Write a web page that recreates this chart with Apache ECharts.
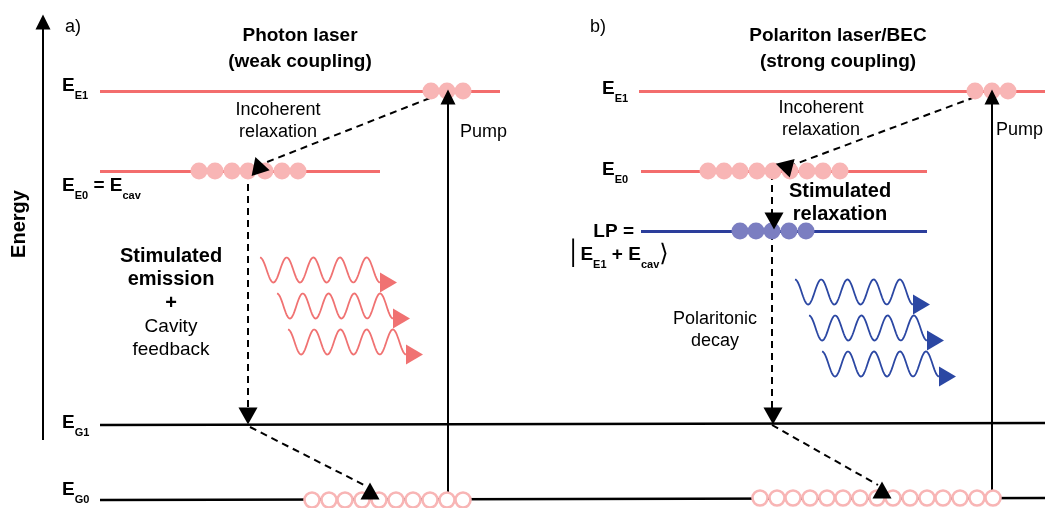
<!DOCTYPE html>
<html>
<head>
<meta charset="utf-8">
<script src="https://cdn.jsdelivr.net/npm/echarts@6/dist/echarts.min.js"></script>
<style>
  html, body { margin: 0; padding: 0; background: #fff; }
  #chart { width: 1049px; height: 508px; }
</style>
</head>
<body>
<div id="chart"></div>
<script>
// ---- Diagram geometry (scene units = plot units, y grows downward) ----
// Energy levels as [x1, y1, x2, y2]
const excitonLevels  = [[100, 91, 500, 91], [100, 171, 380, 171], [639, 91, 1045, 91], [641, 171, 927, 171]];
const polaritonLevel = [[641, 231, 927, 231]];
const groundLevels   = [[100, 425, 1045, 423], [100, 500, 1045, 498]];

// Solid shafts: energy axis and the two pump arrows
const solidShafts = [[43, 440, 43, 28], [448, 500, 448, 104], [992, 498, 992, 104]];

// Dashed transitions
const dashedPaths = [
  [430, 98, 262, 164],   // a) incoherent relaxation
  [248, 172, 248, 410],  // a) stimulated emission
  [250, 427, 366, 486],  // a) G1 -> G0
  [975, 97, 790, 166],   // b) incoherent relaxation
  [772, 173, 772, 214],  // b) stimulated relaxation
  [772, 233, 772, 410],  // b) polaritonic decay
  [772, 425, 878, 485]   // b) G1 -> G0
];

// Arrow heads: [x, y, rotation in degrees]
const solidHeads  = [[43, 22, 0], [448, 97, 0], [992, 97, 0]];
const dashedHeads = [[258, 165, 18], [248, 416, 180], [370, 491, 0],
                     [784, 166, 75], [774, 221, 180], [773, 416, 180], [882, 490, 0]];

// Particle populations: x positions on each level
const popE1a = [431, 447, 463];
const popE0a = [199, 215, 232, 248, 265, 282, 298];
const popE1b = [975, 992, 1008];
const popE0b = [708, 724, 740, 757, 773, 790, 807, 823, 840];
const popLP  = [740, 756, 772, 789, 806];
const popG0a = [312, 329, 345, 362, 379, 396, 413, 430, 447, 463];
const popG0b = [760, 777, 793, 810, 827, 843, 860, 877, 893, 910, 927, 943, 960, 977, 993];
const yE1 = 91, yE0 = 171, yLP = 231, yG0a = 500, yG0b = 498;

// Emitted photons: [start x, centre y, end x]
const photonsA = [[260, 270, 380], [277, 306, 393], [288, 342, 406]];
const photonsB = [[795, 292, 913], [809, 328, 927], [822, 364, 939]];

// ---- Styling ----
const RED = '#f36d6d', PINK = '#f8b5b5', BLUE = '#2c3e9b', PURPLE = '#7b7ec1';
const RED_WAVE = '#f07272', BLUE_WAVE = '#2b47a3', INK = '#000';
const FONT = '"Liberation Sans", Arial, Helvetica, sans-serif';
const WAVE_CYCLES = 4.5, WAVE_AMP = 12.5;

const segs = list => list.map(s => ({ coords: [[s[0], s[1]], [s[2], s[3]]] }));
const row = (xs, y) => xs.map(x => [x, y]);
const heads = list => list.map(h => ({ value: [h[0], h[1]], symbolRotate: h[2] }));

function linesSeries(list, color, width, dashed) {
  return {
    type: 'lines', coordinateSystem: 'cartesian2d', silent: true,
    data: segs(list), symbol: 'none',
    lineStyle: { color: color, width: width, opacity: 1, type: dashed ? [7, 5] : 'solid', cap: 'butt' }
  };
}

function waveSeries(data, color) {
  return {
    type: 'custom', coordinateSystem: 'cartesian2d', silent: true, data: data,
    renderItem: function (params, api) {
      const x0 = api.value(0), yc = api.value(1), x1 = api.value(2);
      const pts = [];
      const n = 160;
      for (let i = 0; i <= n; i++) {
        const t = i / n;
        const x = x0 + (x1 - x0) * t;
        const y = yc - WAVE_AMP * Math.cos(2 * Math.PI * WAVE_CYCLES * t);
        pts.push(api.coord([x, y]));
      }
      const yEnd = yc + WAVE_AMP;
      const head = [api.coord([x1, yEnd - 10]), api.coord([x1 + 17, yEnd]), api.coord([x1, yEnd + 10])];
      return {
        type: 'group',
        children: [
          { type: 'polyline', shape: { points: pts }, style: { stroke: color, lineWidth: 1.8, fill: null } },
          { type: 'polygon', shape: { points: head }, style: { fill: color } }
        ]
      };
    }
  };
}

function dotSeries(points, fill, stroke, size, borderWidth) {
  return {
    type: 'scatter', silent: true, data: points, symbol: 'circle', symbolSize: size,
    itemStyle: { color: fill, borderColor: stroke, borderWidth: borderWidth || 0, opacity: 1 }
  };
}

function headSeries(list, size) {
  return {
    type: 'scatter', silent: true, data: heads(list), symbol: 'triangle', symbolSize: size,
    itemStyle: { color: '#000', opacity: 1 }
  };
}

// ---- Text annotations ----
const base = { fontFamily: FONT, color: INK, textBorderWidth: 0 };
const rich = {
  t:  Object.assign({ fontSize: 19, fontWeight: 'bold', lineHeight: 26 }, base),
  n:  Object.assign({ fontSize: 18, lineHeight: 22 }, base),
  nl: Object.assign({ fontSize: 19, lineHeight: 23.5 }, base),
  b:  Object.assign({ fontSize: 20, fontWeight: 'bold', lineHeight: 23.5 }, base),
  E:  Object.assign({ fontSize: 19, fontWeight: 'bold', lineHeight: 20 }, base),
  s:  Object.assign({ fontSize: 11, fontWeight: 'bold', lineHeight: 12, padding: [20, 0, 0, 0] }, base),
  k:  { fontFamily: '"DejaVu Sans", sans-serif', fontSize: 24, color: INK, lineHeight: 20, textBorderWidth: 0 }
};

const annotations = [
  { at: [65, 27],   align: 'left',   text: '{n|a)}' },
  { at: [590, 27],  align: 'left',   text: '{n|b)}' },
  { at: [300, 49],  align: 'center', text: '{t|Photon laser}\n{t|(weak coupling)}' },
  { at: [838, 49],  align: 'center', text: '{t|Polariton laser/BEC}\n{t|(strong coupling)}' },
  { at: [19, 224],  align: 'center', text: '{b|Energy}', rotate: 90 },
  { at: [62, 86],   align: 'left',   text: '{E|E}{s|E1}' },
  { at: [62, 186],  align: 'left',   text: '{E|E}{s|E0}{E| = E}{s|cav}' },
  { at: [62, 423],  align: 'left',   text: '{E|E}{s|G1}' },
  { at: [62, 490],  align: 'left',   text: '{E|E}{s|G0}' },
  { at: [602, 89],  align: 'left',   text: '{E|E}{s|E1}' },
  { at: [602, 170], align: 'left',   text: '{E|E}{s|E0}' },
  { at: [634, 232], align: 'right',  text: '{E|LP =}' },
  { at: [566, 255], align: 'left',   text: '{k|\u2502}{E|E}{s|E1}{E| + E}{s|cav}{k|\u27e9}' },
  { at: [278, 121], align: 'center', text: '{n|Incoherent}\n{n|relaxation}' },
  { at: [821, 119], align: 'center', text: '{n|Incoherent}\n{n|relaxation}' },
  { at: [460, 132], align: 'left',   text: '{n|Pump}' },
  { at: [996, 130], align: 'left',   text: '{n|Pump}' },
  { at: [171, 303], align: 'center', text: '{b|Stimulated}\n{b|emission}\n{b|+}\n{nl|Cavity}\n{nl|feedback}' },
  { at: [840, 203], align: 'center', text: '{b|Stimulated}\n{b|relaxation}' },
  { at: [715, 330], align: 'center', text: '{n|Polaritonic}\n{n|decay}' }
];

const textSeries = {
  type: 'scatter', silent: true, symbol: 'circle', symbolSize: 1,
  itemStyle: { color: 'rgba(0,0,0,0)' },
  data: annotations.map(a => ({
    value: a.at,
    label: {
      show: true, position: 'inside', formatter: a.text, rich: rich,
      color: INK, textBorderWidth: 0, opacity: 1,
      align: a.align, verticalAlign: 'middle', rotate: a.rotate || 0
    }
  }))
};

const chart = echarts.init(document.getElementById('chart'), null, { renderer: 'canvas' });
chart.setOption({
  animation: false,
  backgroundColor: '#ffffff',
  grid: { left: 0, right: 0, top: 0, bottom: 0 },
  xAxis: { type: 'value', min: 0, max: 1049, show: false },
  yAxis: { type: 'value', min: 0, max: 508, inverse: true, show: false },
  series: [
    linesSeries(excitonLevels, RED, 3),
    linesSeries(polaritonLevel, BLUE, 3),
    linesSeries(groundLevels, '#000', 2.7),
    linesSeries(solidShafts, '#000', 2),
    dotSeries(row(popE1a, yE1), PINK, PINK, 17),
    dotSeries(row(popE0a, yE0), PINK, PINK, 17),
    dotSeries(row(popE1b, yE1), PINK, PINK, 17),
    dotSeries(row(popE0b, yE0), PINK, PINK, 17),
    dotSeries(row(popLP, yLP), PURPLE, PURPLE, 17),
    waveSeries(photonsA, RED_WAVE),
    waveSeries(photonsB, BLUE_WAVE),
    linesSeries(dashedPaths, '#000', 2, true),
    dotSeries(row(popG0a, yG0a), '#fff', PINK, 15, 2.6),
    dotSeries(row(popG0b, yG0b), '#fff', PINK, 15, 2.6),
    headSeries(solidHeads, [15, 15]),
    headSeries(dashedHeads, [19, 17]),
    textSeries
  ]
});
</script>
</body>
</html>
